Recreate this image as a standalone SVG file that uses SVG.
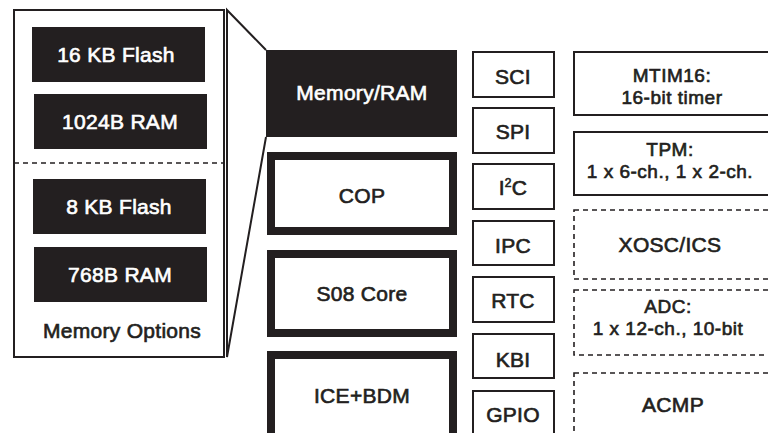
<svg xmlns="http://www.w3.org/2000/svg" width="768" height="433" viewBox="0 0 768 433">
<style>
text{font-family:"Liberation Sans",Arial,sans-serif;font-size:21px;text-anchor:middle;fill:#231f20;stroke:#231f20;stroke-width:0.65;letter-spacing:0.3px}
text.two{font-size:19px;letter-spacing:0.5px}
.w{fill:#fff;stroke:#fff}
.blk{fill:#231f20}
.thin{fill:#fff;stroke:#231f20;stroke-width:2}
.thick{fill:#fff;stroke:#231f20;stroke-width:8}
.dash{fill:#fff;stroke:#231f20;stroke-width:1.6;stroke-dasharray:5 4}
</style>
<rect width="768" height="433" fill="#fff"/>
<g id="memory-options">
<rect class="thin" x="14" y="10" width="210" height="347"/>
<line x1="14" y1="163" x2="224" y2="163" stroke="#231f20" stroke-width="1.6" stroke-dasharray="5 4"/>
<g id="flash16"><rect class="blk" x="32" y="27" width="173" height="55"/><text class="w" x="116" y="62">16 KB Flash</text></g>
<g id="ram1024"><rect class="blk" x="34" y="94" width="173" height="55"/><text class="w" x="120" y="129">1024B RAM</text></g>
<g id="flash8"><rect class="blk" x="33" y="179" width="173" height="55"/><text class="w" x="119" y="214">8 KB Flash</text></g>
<g id="ram768"><rect class="blk" x="34" y="247" width="173" height="55"/><text class="w" x="120" y="282">768B RAM</text></g>
<text x="122" y="338">Memory Options</text>
</g>
<g id="connectors" fill="none" stroke="#231f20" stroke-width="2">
<polyline points="266,50 227,10 227,357 266,137"/>
</g>
<g id="memory-ram"><rect class="blk" x="266" y="50" width="191" height="87"/><text class="w" x="362" y="100">Memory/RAM</text></g>
<g id="cop"><rect class="thick" x="271" y="156" width="182" height="75"/><text x="362" y="203">COP</text></g>
<g id="s08core"><rect class="thick" x="271" y="254" width="182" height="79"/><text x="362" y="301">S08 Core</text></g>
<g id="icebdm"><rect class="thick" x="271" y="355" width="182" height="90"/><text x="362" y="403">ICE+BDM</text></g>
<g id="sci"><rect class="thin" x="473" y="52" width="81" height="45"/><text x="513" y="84">SCI</text></g>
<g id="spi"><rect class="thin" x="473" y="108" width="81" height="45"/><text x="513" y="139">SPI</text></g>
<g id="i2c"><rect class="thin" x="473" y="164" width="81" height="45"/><text x="513" y="195">I<tspan font-size="12" dy="-8">2</tspan><tspan dy="8">C</tspan></text></g>
<g id="ipc"><rect class="thin" x="473" y="221" width="81" height="44"/><text x="513" y="253">IPC</text></g>
<g id="rtc"><rect class="thin" x="473" y="277" width="81" height="45"/><text x="513" y="308">RTC</text></g>
<g id="kbi"><rect class="thin" x="473" y="334" width="81" height="44"/><text x="513" y="367">KBI</text></g>
<g id="gpio"><rect class="thin" x="473" y="391" width="81" height="50"/><text x="513" y="422">GPIO</text></g>
<g id="mtim16"><rect class="thin" x="574" y="52" width="220" height="63"/><text class="two" x="672" y="82">MTIM16:</text><text class="two" x="672" y="104">16-bit timer</text></g>
<g id="tpm"><rect class="thin" x="574" y="132" width="220" height="63"/><text class="two" x="670" y="156">TPM:</text><text class="two" x="670" y="178">1 x 6-ch., 1 x 2-ch.</text></g>
<g id="xosc"><rect class="dash" x="574" y="210" width="220" height="69"/><text x="670" y="252">XOSC/ICS</text></g>
<g id="adc"><rect class="dash" x="574" y="290" width="220" height="65"/><text class="two" x="668" y="313">ADC:</text><text class="two" x="668" y="335">1 x 12-ch., 10-bit</text></g>
<g id="acmp"><rect class="dash" x="574" y="373" width="220" height="70"/><text x="673" y="412">ACMP</text></g>
</svg>
